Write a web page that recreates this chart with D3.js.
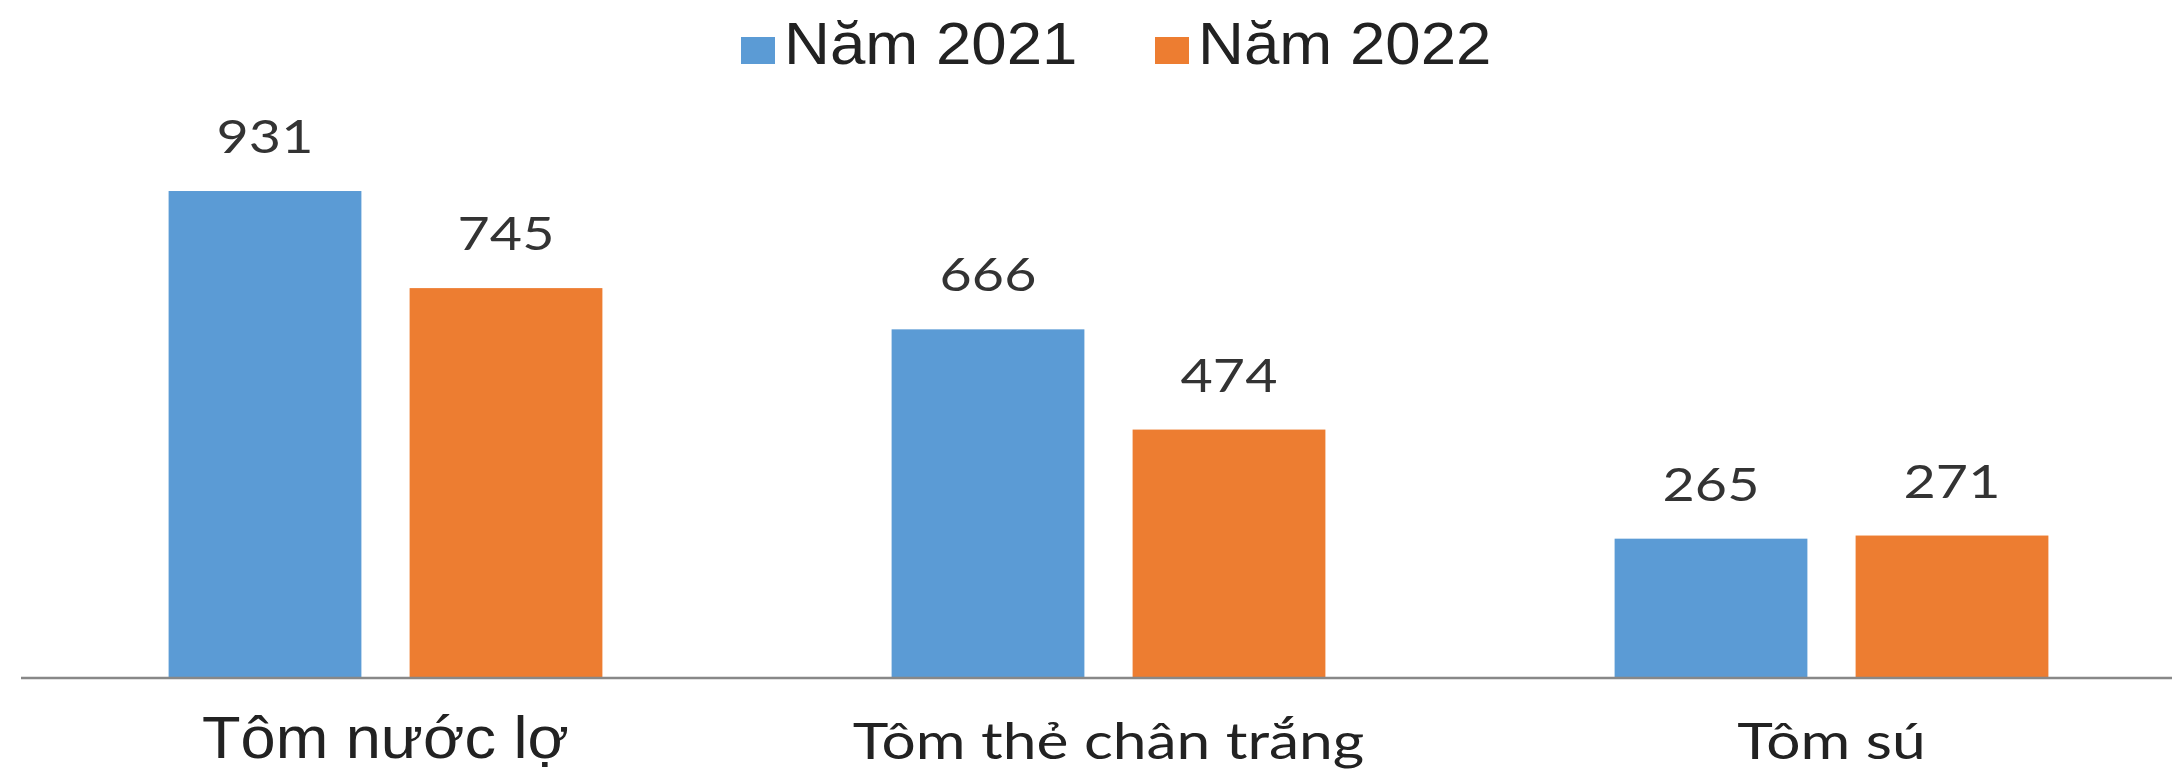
<!DOCTYPE html>
<html>
<head>
<meta charset="utf-8">
<script src="https://cdn.jsdelivr.net/npm/d3@7"></script>
<style>
  html, body { margin: 0; padding: 0; background: #fff; }
  svg { display: block; }
</style>
</head>
<body>
<div id="chart"></div>
<script>
const categories = ["Tôm nước lợ", "Tôm thẻ chân trắng", "Tôm sú"];
const seriesNames = ["Năm 2021", "Năm 2022"];
const values2021 = [931, 666, 265];
const values2022 = [745, 474, 271];
const colors = ["#5B9BD5", "#ED7D31"];

const width = 2172;
const height = 773;
const baseY = 677;

const svg = d3.select("#chart").append("svg")
    .attr("width", width)
    .attr("height", height);

// gộp dữ liệu theo nhóm
const rows = categories.map((c, i) => ({
    category: c,
    values: [values2021[i], values2022[i]]
}));

const x0 = d3.scaleBand()
    .domain(categories)
    .range([24, 2193])
    .paddingInner(0.4)
    .paddingOuter(0.2);

const x1 = d3.scaleBand()
    .domain(seriesNames)
    .range([0, x0.bandwidth()])
    .paddingInner(0.2);

const y = d3.scaleLinear()
    .domain([0, 1000])
    .range([baseY, baseY - 522]);

const groups = svg.selectAll("g.group")
    .data(rows)
    .join("g")
    .attr("class", "group")
    .attr("transform", d => `translate(${x0(d.category)},0)`);

groups.selectAll("rect")
    .data(d => d.values.map((v, j) => ({ name: seriesNames[j], value: v, j })))
    .join("rect")
    .attr("x", d => x1(d.name))
    .attr("y", d => y(d.value))
    .attr("width", x1.bandwidth())
    .attr("height", d => baseY - y(d.value))
    .attr("fill", d => colors[d.j]);

// nhãn giá trị (chữ hơi giãn ngang như ảnh gốc)
groups.selectAll("text.value")
    .data(d => d.values.map((v, j) => ({ name: seriesNames[j], value: v })))
    .join("text")
    .attr("class", "value")
    .attr("transform", d => `translate(${x1(d.name) + x1.bandwidth() / 2},${y(d.value) - 38}) scale(1.21,1)`)
    .attr("text-anchor", "middle")
    .style("font-family", "Lato, 'Open Sans', sans-serif")
    .style("font-size", "46px")
    .style("fill", "#333")
    .text(d => d.value);

// trục hoành
svg.append("line")
    .attr("x1", 21)
    .attr("x2", width)
    .attr("y1", baseY + 1)
    .attr("y2", baseY + 1)
    .attr("stroke", "#888")
    .attr("stroke-width", 2.5);

svg.selectAll("text.cat")
    .data(categories)
    .join("text")
    .attr("class", "cat")
    .attr("transform", (d, i) => {
        const cx = x0(d) + x0.bandwidth() / 2;
        return i === 0
            ? `translate(${cx},758) scale(1.07,1)`
            : `translate(${cx},759) scale(1.21,1)`;
    })
    .attr("text-anchor", "middle")
    .style("font-family", (d, i) => i === 0 ? "'Liberation Sans', Arial, sans-serif" : "Lato, sans-serif")
    .style("font-size", (d, i) => i === 0 ? "59px" : "50px")
    .style("fill", "#222")
    .text(d => d);

// chú thích
const legendX = [741, 1155];
const legend = svg.selectAll("g.legend")
    .data(seriesNames)
    .join("g")
    .attr("class", "legend")
    .attr("transform", (d, i) => `translate(${legendX[i]},0)`);

legend.append("rect")
    .attr("x", 0)
    .attr("y", 37)
    .attr("width", 34)
    .attr("height", 27)
    .attr("fill", (d, i) => colors[i]);

legend.append("text")
    .attr("transform", "translate(43,64) scale(1.06,1)")
    .style("font-family", "'Liberation Sans', Arial, sans-serif")
    .style("font-size", "60px")
    .style("fill", "#222")
    .text(d => d);
</script>
</body>
</html>
